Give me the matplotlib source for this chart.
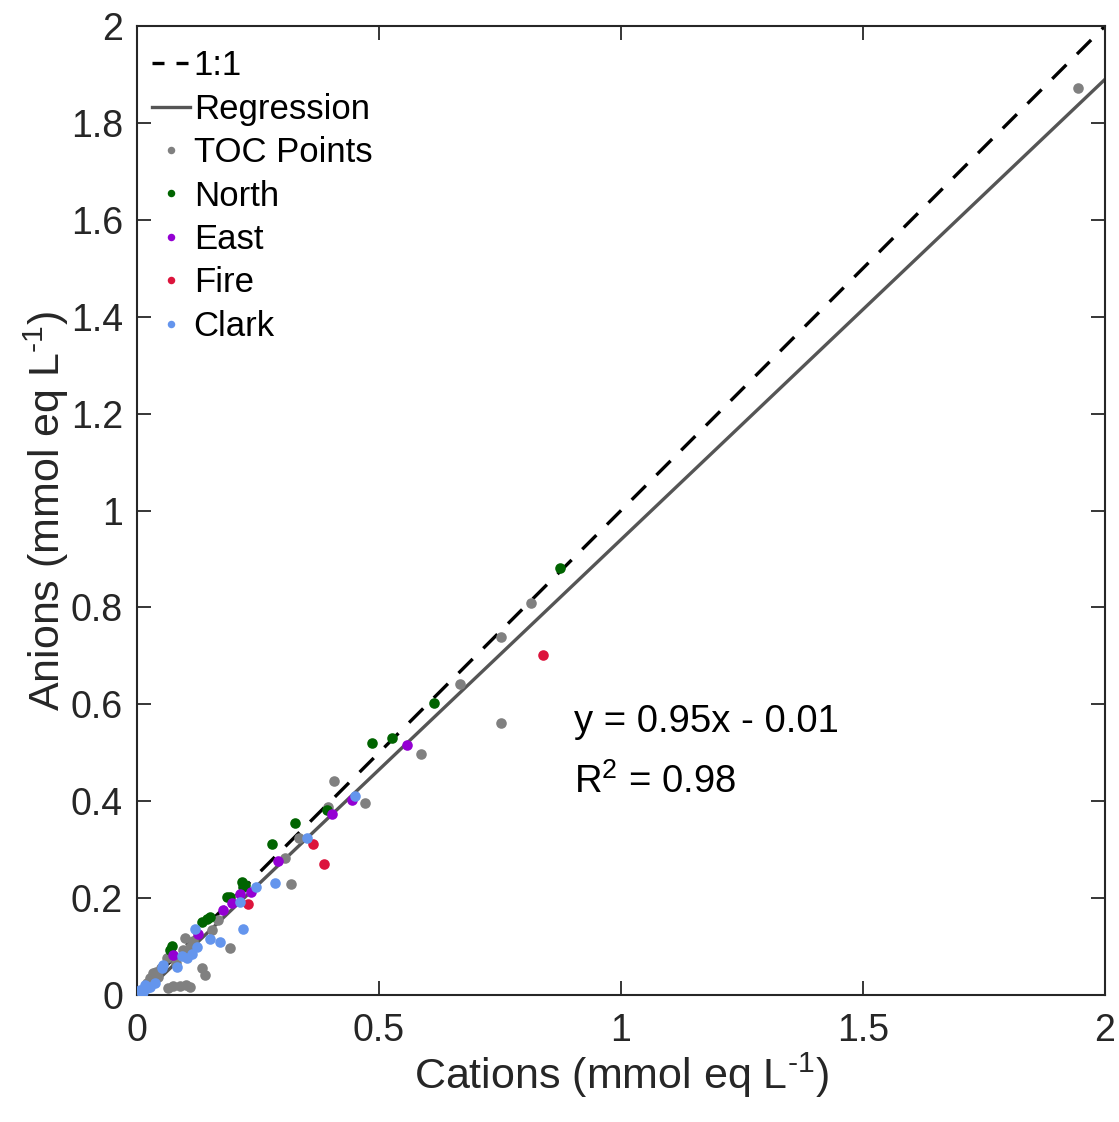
import numpy as np
import matplotlib
matplotlib.use('Agg')
import matplotlib.pyplot as plt
from matplotlib.lines import Line2D

plt.rcParams['font.family'] = ['Liberation Sans', 'DejaVu Sans']
plt.rcParams['mathtext.fontset'] = 'custom'
plt.rcParams['mathtext.rm'] = 'Liberation Sans'
plt.rcParams['mathtext.it'] = 'Liberation Sans:italic'

# cations (x), anions (y), mmol eq / L
toc_x = [1.944, 0.815, 0.753, 0.667, 0.753, 0.587, 0.407, 0.472, 0.395, 0.335, 0.306, 0.318,
         0.168, 0.155, 0.099, 0.192, 0.095, 0.062, 0.134, 0.141, 0.040, 0.033, 0.043, 0.027,
         0.074, 0.088, 0.101, 0.110, 0.064, 0.080, 0.050, 0.020, 0.110, 0.115]
toc_y = [1.872, 0.810, 0.738, 0.642, 0.562, 0.498, 0.442, 0.397, 0.388, 0.324, 0.283, 0.229,
         0.155, 0.134, 0.118, 0.097, 0.093, 0.077, 0.056, 0.041, 0.048, 0.045, 0.037, 0.035,
         0.019, 0.019, 0.021, 0.017, 0.015, 0.065, 0.055, 0.025, 0.100, 0.112]

north_x = [0.875, 0.614, 0.527, 0.486, 0.393, 0.327, 0.279, 0.217, 0.223, 0.219, 0.186, 0.192,
           0.134, 0.144, 0.151, 0.072, 0.068]
north_y = [0.882, 0.603, 0.531, 0.520, 0.382, 0.355, 0.312, 0.233, 0.227, 0.223, 0.202, 0.202,
           0.151, 0.157, 0.161, 0.101, 0.093]

east_x = [0.558, 0.445, 0.403, 0.292, 0.236, 0.213, 0.196, 0.178, 0.126, 0.074]
east_y = [0.517, 0.403, 0.374, 0.277, 0.213, 0.209, 0.190, 0.176, 0.126, 0.083]

fire_x = [0.838, 0.364, 0.387, 0.229]
fire_y = [0.702, 0.312, 0.271, 0.188]

clark_x = [0.451, 0.352, 0.285, 0.246, 0.213, 0.120, 0.219, 0.151, 0.172, 0.124, 0.093, 0.103,
           0.114, 0.054, 0.052, 0.082, 0.017, 0.027, 0.037, 0.006, 0.012, 0.020, 0.010]
clark_y = [0.411, 0.324, 0.231, 0.223, 0.192, 0.136, 0.136, 0.116, 0.110, 0.099, 0.080, 0.077,
           0.085, 0.062, 0.056, 0.058, 0.021, 0.017, 0.025, 0.010, 0.006, 0.015, 0.003]

slope, intercept = 0.95, -0.01

fig = plt.figure(figsize=(11.19, 11.22), dpi=100)
ax = fig.add_axes([0.1224, 0.1132, 0.8651, 0.8636])

xx = np.array([0, 2])
ax.plot(xx, xx, color='black', lw=2.4, dashes=(6, 4.5), zorder=2)
reg, = ax.plot(xx, slope * xx + intercept, color='#555555', lw=2.4, label='Regression', zorder=2)

groups = [
    (toc_x, toc_y, '#808080', 'TOC Points'),
    (north_x, north_y, '#006400', 'North'),
    (east_x, east_y, '#9400D3', 'East'),
    (fire_x, fire_y, '#DC143C', 'Fire'),
    (clark_x, clark_y, '#6495ED', 'Clark'),
]
handles = [Line2D([], [], color='black', lw=2.4, dashes=(3.6, 3.6)), reg]
labels = ['1:1', 'Regression']
for gx, gy, c, lab in groups:
    ax.scatter(gx, gy, s=58, color=c, zorder=3, linewidths=0)
    handles.append(Line2D([], [], ls='none', marker='o', ms=5.4, mew=0, color=c))
    labels.append(lab)

ax.set_xlim(0, 2)
ax.set_ylim(0, 2)
ax.set_xticks([0, 0.5, 1, 1.5, 2])
ax.set_xticklabels(['0', '0.5', '1', '1.5', '2'])
ax.set_yticks(np.arange(0, 2.01, 0.2))
ax.set_yticklabels(['0', '0.2', '0.4', '0.6', '0.8', '1', '1.2', '1.4', '1.6', '1.8', '2'])
ax.tick_params(direction='in', top=True, right=True, length=10, width=1.3,
               labelsize=27, colors='#262626')
ax.tick_params(axis='x', pad=13)
ax.tick_params(axis='y', pad=10)
for sp in ax.spines.values():
    sp.set_linewidth(1.5)
    sp.set_color('#262626')

sup = '\u2010' + '1'
ax.set_xlabel('Cations (mmol eq L$^{%s}$)' % sup, fontsize=31, color='#262626', labelpad=1)
ax.set_ylabel('Anions (mmol eq L$^{%s}$)' % sup, fontsize=31, color='#262626', labelpad=0)

ax.text(0.902, 0.564, 'y = 0.95x - 0.01', fontsize=27.5, va='center', ha='left')
ax.text(0.902, 0.44, 'R$^2$ = 0.98', fontsize=27.5, va='center', ha='left')

ax.legend(handles, labels, loc='upper left', bbox_to_anchor=(0.0155, 0.976),
          frameon=False, fontsize=25, handlelength=1.1, handletextpad=0.1,
          labelspacing=0.3, borderaxespad=0, borderpad=0)

fig.savefig('out.png', dpi=100, facecolor='white')
